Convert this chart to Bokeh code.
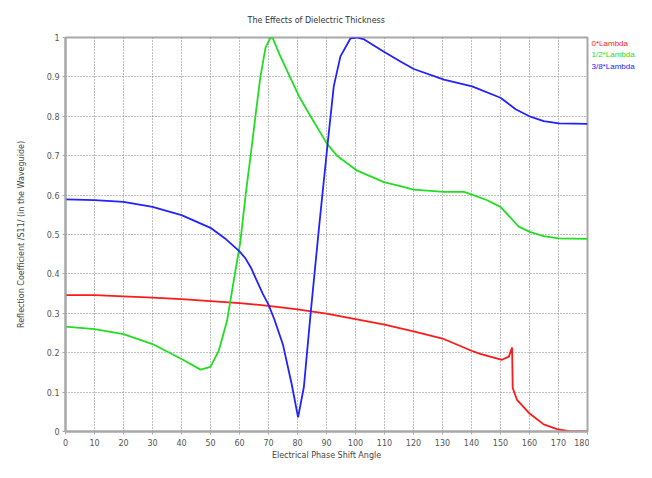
from bokeh.plotting import figure
from bokeh.layouts import row
from bokeh.models import Range1d, FixedTicker, NumeralTickFormatter
from bokeh.core.properties import value
from bokeh.embed import file_html
from bokeh.resources import INLINE

title_text = "The Effects of Dielectric Thickness"
x_label = "Electrical Phase Shift Angle"
y_label = "Reflection Coefficient /S11/ (in the Waveguide)"
series_names = ["0*Lambda", "1/2*Lambda", "3/8*Lambda"]
series_colors = ["#ff1a1a", "#22dd22", "#2222ff"]

x_ticks = [0, 10, 20, 30, 40, 50, 60, 70, 80, 90, 100, 110, 120, 130, 140, 150, 160, 170, 180]
y_ticks = [0, 0.1, 0.2, 0.3, 0.4, 0.5, 0.6, 0.7, 0.8, 0.9, 1.0]

red_x = [0, 10, 20, 30, 40, 50, 60, 70, 80, 90, 100, 110, 120, 130, 140, 143,
         150.5, 152.9, 154.0, 154.2, 155.7, 159.8, 164.9, 169.5, 173.6, 180]
red_y = [0.346, 0.346, 0.343, 0.340, 0.336, 0.331, 0.326, 0.319, 0.310, 0.299, 0.285,
         0.271, 0.254, 0.236, 0.205, 0.197, 0.182, 0.190, 0.213, 0.111, 0.080, 0.047,
         0.018, 0.006, 0.001, 0.0]

green_x = [0, 10, 20, 30, 40, 46.6, 50, 52.9, 55.7, 58, 60.3, 62.1, 64, 66, 67.2, 69,
           70.7, 71.5, 74.1, 80.5, 84.5, 90.2, 93.6, 100.6, 109.8, 115.5, 120, 130.5,
           137.4, 140.2, 145.4, 150, 156.3, 160.3, 164.9, 170, 180]
green_y = [0.266, 0.260, 0.247, 0.222, 0.184, 0.157, 0.164, 0.206, 0.281, 0.382, 0.482,
           0.600, 0.710, 0.830, 0.900, 0.975, 1.0, 0.998, 0.952, 0.851, 0.800, 0.730,
           0.700, 0.662, 0.633, 0.623, 0.614, 0.608, 0.608, 0.601, 0.587, 0.570, 0.520,
           0.506, 0.496, 0.490, 0.489]

blue_x = [0, 10, 20, 30, 40, 50, 55, 60, 62, 64, 66, 68, 70, 72, 75, 78, 80.2, 82.2,
          84.5, 87.4, 90.2, 92.5, 94.8, 98.3, 100.5, 103, 109.8, 115.5, 120.1, 130.5,
          140.2, 150, 155.2, 160.3, 164.9, 170.1, 180]
blue_y = [0.589, 0.587, 0.583, 0.570, 0.549, 0.517, 0.490, 0.457, 0.440, 0.415, 0.382,
          0.350, 0.322, 0.285, 0.220, 0.120, 0.036, 0.113, 0.298, 0.516, 0.717, 0.876,
          0.952, 0.998, 1.0, 0.995, 0.964, 0.939, 0.920, 0.893, 0.876, 0.847, 0.818,
          0.799, 0.788, 0.782, 0.781]

legend_y = [0.986, 0.956, 0.926]

FONT = "DejaVu Sans"
TOP, BOTTOM = 37, 27

y_range = Range1d(0, 1)
p = figure(width=589, height=462, output_backend="svg", toolbar_location=None,
           x_range=Range1d(0, 180), y_range=y_range,
           min_border_left=65, min_border_right=2, min_border_top=TOP,
           min_border_bottom=BOTTOM)
p.background_fill_color = "white"
p.border_fill_color = "white"
p.outline_line_color = "#a8a8a8"
p.outline_line_width = 2

p.title.text = title_text
p.title.align = "left"
p.title.offset = 182
p.title.text_font = FONT
p.title.text_font_size = "8px"
p.title.text_font_style = "normal"
p.title.text_color = "#333333"
p.title.standoff = 26

for xs, ys, c in [(red_x, red_y, series_colors[0]), (green_x, green_y, series_colors[1]),
                  (blue_x, blue_y, series_colors[2])]:
    p.line(xs, ys, line_color=c, line_width=1.8)

p.xaxis.ticker = FixedTicker(ticks=x_ticks)
p.yaxis.ticker = FixedTicker(ticks=y_ticks)
p.yaxis.formatter = NumeralTickFormatter(format="0.[0]")
for ax in (p.xaxis[0], p.yaxis[0]):
    ax.axis_line_color = "#a8a8a8"
    ax.axis_line_width = 2
    ax.major_tick_line_color = "#a8a8a8"
    ax.major_tick_out = 3
    ax.major_tick_in = 0
    ax.minor_tick_line_color = None
    ax.major_label_text_font = FONT
    ax.major_label_text_font_size = "8px"
    ax.major_label_text_color = "#555555"
    ax.axis_label_text_font = FONT
    ax.axis_label_text_font_size = "8px"
    ax.axis_label_text_font_style = "normal"
    ax.axis_label_text_color = "#444444"
p.xaxis.major_label_standoff = 4
p.yaxis.major_label_standoff = 3
p.xaxis.axis_label = x_label
p.yaxis.axis_label = y_label
p.xaxis.axis_label_standoff = 2
p.yaxis.axis_label_standoff = 18

p.grid.grid_line_color = "#808080"
p.grid.grid_line_dash = "1 2"
p.grid.grid_line_width = 1

# legend (text only, coloured) in a narrow side panel sharing the y range
q = figure(width=47, height=462, output_backend="svg", toolbar_location=None,
           x_range=Range1d(0, 47), y_range=y_range, x_axis_type=None, y_axis_type=None,
           min_border_left=0, min_border_right=0, min_border_top=TOP,
           min_border_bottom=BOTTOM)
q.outline_line_color = None
q.grid.visible = False
q.background_fill_color = "white"
q.border_fill_color = "white"
q.text(x=[2, 2, 2], y=legend_y, text=series_names, text_color=series_colors,
       text_font=value("Liberation Sans"), text_font_size="8px",
       text_baseline="middle", text_align="left")

layout = row(p, q)
open("out.html", "w").write(file_html(layout, INLINE))
